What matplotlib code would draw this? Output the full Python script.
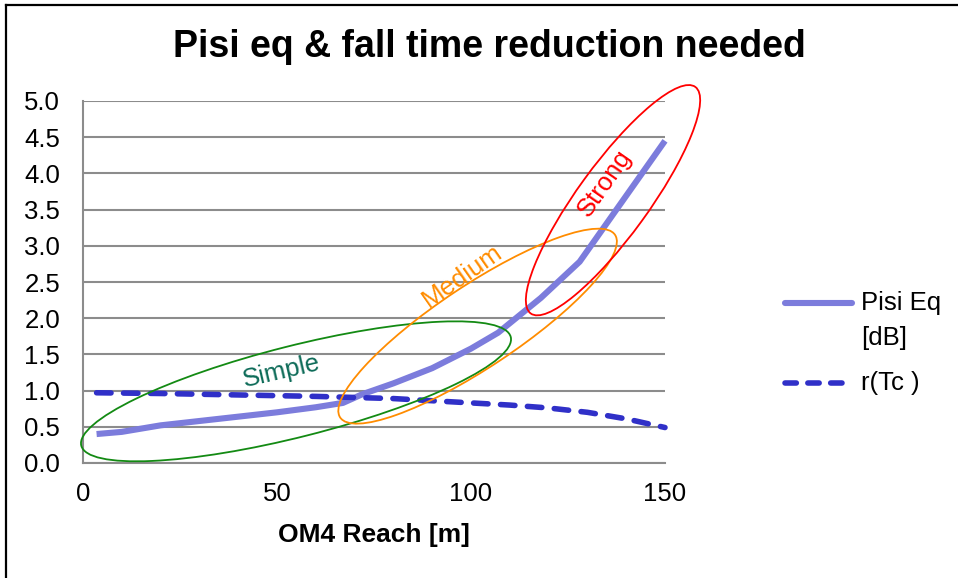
import numpy as np
import matplotlib
matplotlib.use("Agg")
import matplotlib.pyplot as plt
from matplotlib.patches import Ellipse
from matplotlib.lines import Line2D
from matplotlib.transforms import ScaledTranslation

plt.rcParams['font.family'] = ['Liberation Sans', 'DejaVu Sans']

# data
reach_pisi = [3.5, 10, 20, 30, 40, 50, 60, 67, 72, 80, 90, 100, 107, 118, 128, 150]
pisi_eq = [0.40, 0.43, 0.52, 0.58, 0.64, 0.70, 0.77, 0.83, 0.95, 1.10, 1.31, 1.58, 1.80, 2.28, 2.78, 4.45]

reach_r = [3.5, 20, 40, 60, 80, 90, 100, 110, 120, 130, 140, 150]
r_tc = [0.97, 0.96, 0.94, 0.92, 0.89, 0.86, 0.83, 0.80, 0.76, 0.70, 0.61, 0.49]

x_ticks = [0, 50, 100, 150]
y_ticks = [0.0, 0.5, 1.0, 1.5, 2.0, 2.5, 3.0, 3.5, 4.0, 4.5, 5.0]

# region ellipses: name, centre (data), width/height (inches), angle, colour,
# label position (data), label rotation, label colour
regions = [
    ("Simple", (54.9, 0.99), 4.43, 0.91, 14.2, "#138a13", (51.3, 1.26), 13, "#0d6b58"),
    ("Medium", (101.7, 1.89), 3.30, 0.82, 33.6, "#ff8c00", (97.7, 2.58), 35, "#ff8c00"),
    ("Strong", (136.6, 3.63), 2.80, 0.71, 54.0, "#ff0000", (134.5, 3.87), 55, "#ff0000"),
]

pisi_color = "#7c7cdc"
r_color = "#3030c8"
grid_color = "#8c8c8c"

fig = plt.figure(figsize=(9.58, 5.78), dpi=100)
ax = fig.add_axes([83 / 958, 1 - 463 / 578, (665 - 83) / 958, (463 - 101) / 578])

ax.plot(reach_pisi, pisi_eq, color=pisi_color, lw=4.4, solid_capstyle="butt",
        solid_joinstyle="round", zorder=3, clip_on=False)
ax.plot(reach_r, r_tc, color=r_color, lw=4.0, linestyle=(0, (2.6, 2.25)),
        dash_capstyle="round", zorder=3, clip_on=False)

ax.set_xlim(0, 150)
ax.set_ylim(0, 5)
ax.set_xticks(x_ticks)
ax.set_yticks(y_ticks)
ax.set_yticklabels([f"{v:.1f}" for v in y_ticks])
ax.tick_params(axis="both", length=0, labelsize=18.5)
ax.tick_params(axis="x", pad=14)
ax.tick_params(axis="y", pad=16.5)
ax.grid(axis="y", color=grid_color, lw=1.5)
ax.set_axisbelow(True)
for side in ["top", "right"]:
    ax.spines[side].set_visible(False)
for side in ["left", "bottom"]:
    ax.spines[side].set_color(grid_color)
    ax.spines[side].set_linewidth(1.5)

ax.set_xlabel("OM4 Reach [m]", fontsize=19, fontweight="bold", labelpad=12)

for name, c, w, h, ang, col, tpos, trot, tcol in regions:
    tr = fig.dpi_scale_trans + ScaledTranslation(c[0], c[1], ax.transData)
    ax.add_patch(Ellipse((0, 0), w, h, angle=ang, transform=tr, fill=False,
                         edgecolor=col, lw=1.3, zorder=4, clip_on=False))
    ax.text(tpos[0], tpos[1], name, color=tcol, fontsize=18.5, rotation=trot,
            ha="center", va="center", rotation_mode="anchor", zorder=5)

fig.text(489 / 958, 1 - 47 / 578, "Pisi eq & fall time reduction needed",
         fontsize=27, fontweight="bold", ha="center", va="center")

# legend
fig.add_artist(Line2D([785 / 958, 852 / 958], [1 - 303 / 578] * 2, color=pisi_color,
                      lw=4.4, solid_capstyle="round"))
fig.add_artist(Line2D([785 / 958, 842 / 958], [1 - 383 / 578] * 2, color=r_color,
                      lw=4.0, linestyle=(0, (2.04, 2.07)), dash_capstyle="round"))
fig.text(861 / 958, 1 - 303 / 578, "Pisi Eq", fontsize=18.5, va="center")
fig.text(861 / 958, 1 - 338 / 578, "[dB]", fontsize=18.5, va="center")
fig.text(861 / 958, 1 - 383 / 578, "r(Tc )", fontsize=18.5, va="center")

# frame: only left and top edges show
fig.add_artist(Line2D([6 / 958, 6 / 958], [0, 1 - 5 / 578], color="black", lw=1.6))
fig.add_artist(Line2D([6 / 958, 1], [1 - 5 / 578] * 2, color="black", lw=1.6))

fig.savefig("out.png", dpi=100)
